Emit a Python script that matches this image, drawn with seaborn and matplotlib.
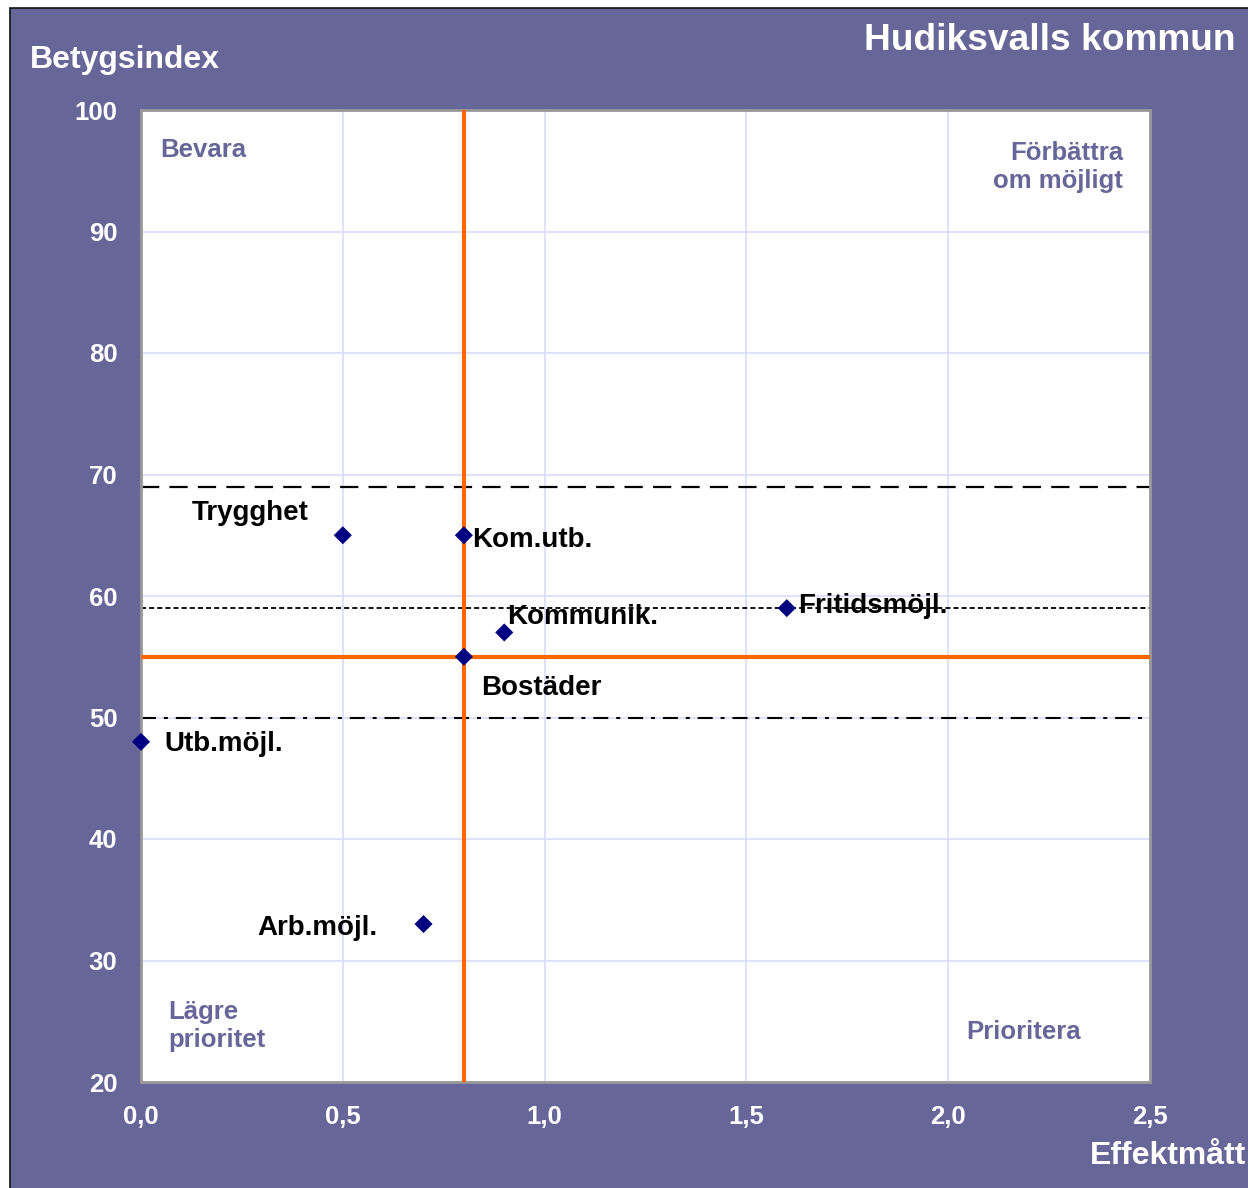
import matplotlib
matplotlib.use("Agg")
import matplotlib.pyplot as plt
import matplotlib.patches as mpatches
import seaborn as sns
import pandas as pd

# === data ===
labels = ["Trygghet", "Kom.utb.", "Kommunik.", "Fritidsmöjl.", "Bostäder", "Utb.möjl.", "Arb.möjl."]
effekt = [0.5, 0.8, 0.9, 1.6, 0.8, 0.0, 0.7]
betyg = [65, 65, 57, 59, 55, 48, 33]

x_ticks = [0.0, 0.5, 1.0, 1.5, 2.0, 2.5]
y_ticks = [20, 30, 40, 50, 60, 70, 80, 90, 100]

ref_x = 0.8      # orange vertical
ref_y = 55       # orange horizontal
line_dash = 69
line_dot = 59
line_dashdot = 50

quad_labels = ["Bevara", "Förbättra\nom möjligt", "Lägre\nprioritet", "Prioritera"]

# label offsets (pixels) relative to the point
offsets = [(-93, 22, "center"), (8, -5, "left"), (3, 15, "left"), (11, 2, "left"),
           (17, -31, "left"), (23, -2, "left"), (-46, -4, "right")]

PURPLE = "#666699"
ORANGE = "#ff6600"

sns.set_theme(style="white")
plt.rcParams['font.family'] = ['Liberation Sans', 'DejaVu Sans']
plt.rcParams['font.weight'] = 'bold'

W, H = 1248, 1188
fig = plt.figure(figsize=(W / 100, H / 100), dpi=100)
fig.patch.set_facecolor("white")

# purple panel with thin dark border on top/left
panel = mpatches.Rectangle((10 / W, -0.01), 1.0, 1.01 - 8 / H, transform=fig.transFigure,
                           facecolor=PURPLE, edgecolor="#111111", linewidth=1.2, zorder=-10)
fig.patches.append(panel)

ax = fig.add_axes([141 / W, 1 - 1082 / H, (1150 - 141) / W, (1082 - 110) / H])
ax.set_zorder(5)
ax.set_facecolor("white")

df = pd.DataFrame({"label": labels, "Effektmått": effekt, "Betygsindex": betyg})

ax.set_xlim(0, 2.5)
ax.set_ylim(20, 100)
ax.set_xticks(x_ticks)
ax.set_yticks(y_ticks)
ax.set_xticklabels([f"{v:.1f}".replace(".", ",") for v in x_ticks])
ax.set_yticklabels([str(v) for v in y_ticks])
ax.grid(True, color="#dadaff", linewidth=1.2, zorder=1)
ax.set_axisbelow(True)
ax.tick_params(axis="both", colors="white", labelsize=18.5, length=0)
ax.tick_params(axis="x", pad=16.5)
ax.tick_params(axis="y", pad=17)
for lab in ax.get_xticklabels() + ax.get_yticklabels():
    lab.set_fontweight("bold")
for s in ax.spines.values():
    s.set_color("#999999")
    s.set_linewidth(2)

# reference lines
ax.axhline(line_dash, color="black", lw=1.6, dashes=(8.2, 4.6), zorder=2)
ax.axhline(line_dot, color="black", lw=1.3, dashes=(2.8, 1.7), zorder=2)
ax.axhline(line_dashdot, color="black", lw=1.5, dashes=(7.2, 3.8, 1.9, 3.8), zorder=2)
ax.axvline(ref_x, color=ORANGE, lw=3, zorder=3)
ax.axhline(ref_y, color=ORANGE, lw=3, zorder=3)

sns.scatterplot(data=df, x="Effektmått", y="Betygsindex", marker="D", s=85,
                color="#000080", edgecolor="none", ax=ax, zorder=5, clip_on=False)
ax.set_xlabel("")
ax.set_ylabel("")

for lab, x, y, (dx, dy, ha) in zip(labels, effekt, betyg, offsets):
    ax.annotate(lab, (x, y), xytext=(dx, dy), textcoords="offset pixels",
                ha=ha, va="center", fontsize=20, fontweight="bold", color="black", zorder=6)

# quadrant labels
qkw = dict(transform=ax.transAxes, color=PURPLE, fontsize=18.5, fontweight="bold",
           linespacing=1.2)
ax.text((160 - 141) / 1009, (1082 - 150) / 972, quad_labels[0], ha="left", va="center", **qkw)
ax.text((1123 - 141) / 1009, (1082 - 167) / 972, quad_labels[1], ha="right", va="center", multialignment="right", **qkw)
ax.text((168 - 141) / 1009, (1082 - 1026) / 972, quad_labels[2], ha="left", va="center", **qkw)
ax.text((966 - 141) / 1009, (1082 - 1032) / 972, quad_labels[3], ha="left", va="center", **qkw)

# figure texts
fig.text(30 / W, 1 - 60 / H, "Betygsindex", color="white", fontsize=23, fontweight="bold",
         ha="left", va="center")
fig.text(1235 / W, 1 - 40 / H, "Hudiksvalls kommun", color="white", fontsize=26.7,
         fontweight="bold", ha="right", va="center")
fig.text(1090 / W, 1 - 1156 / H, "Effektmått", color="white", fontsize=23,
         fontweight="bold", ha="left", va="center")

fig.savefig("out.png", dpi=100, facecolor=fig.get_facecolor())
